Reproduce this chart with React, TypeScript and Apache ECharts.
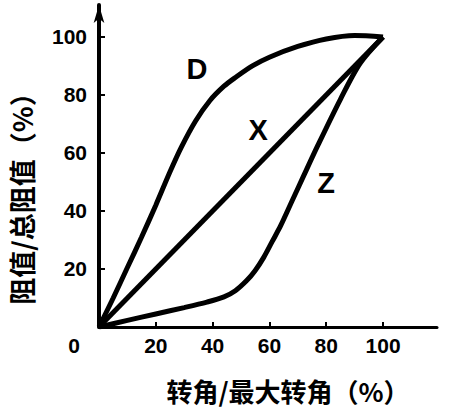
import React, { useEffect, useRef } from "react";
import * as echarts from "echarts";

const seriesNames = ["D", "X", "Z"];
const dCurve: [number, number][] = [
  [0, 0], [5, 10], [10, 20.5], [15, 31], [20, 42], [25, 53.5], [29, 62], [34, 71], [39, 78],
  [44, 83], [48, 86], [54, 90], [60, 93], [70, 96.7], [80, 99.3], [90, 100.5], [100, 100],
];
const xCurve: [number, number][] = [
  [0, 0], [100, 100],
];
const zCurve: [number, number][] = [
  [0, 0], [10, 2.3], [20, 4.5], [30, 6.7], [38, 8.6], [44, 10.4], [48, 12.5], [52, 16], [55, 19.5],
  [58, 24], [61, 29.5], [64, 35], [68, 43.5], [72, 52], [77, 62.5], [85, 78.5], [92, 91], [100, 100],
];
const labelPos: [number, number][] = [[34.5, 89], [56, 68], [80, 49.5]];
const xTicks = [20, 40, 60, 80, 100];
const xLabels = [0, 20, 40, 60, 80, 100];
const yTicks = [20, 40, 60, 80, 100];
const xName = "转角/最大转角（%）";
const yName = "阻值/总阻值（%）";

const numFont = "'Liberation Sans', Arial, sans-serif";
const cjkFont = "'Noto Sans CJK SC', sans-serif";

export default function App() {
  const ref = useRef<HTMLDivElement>(null);
  useEffect(() => {
    if (!ref.current) return;
    const chart = echarts.init(ref.current, undefined, { renderer: "svg" });
    const curves = [dCurve, xCurve, zCurve];
    chart.setOption({
      animation: false,
      backgroundColor: "#ffffff",
      grid: { left: 89, right: 12, top: 5, bottom: 80 },
      xAxis: {
        type: "value",
        min: 0,
        max: 119,
        splitLine: { show: false },
        axisLine: { show: true, lineStyle: { color: "#000", width: 3 } },
        axisTick: { show: true, inside: true, length: 5, customValues: xTicks, lineStyle: { color: "#000", width: 2 } },
        axisLabel: {
          customValues: xLabels,
          margin: 8,
          color: "#000",
          fontFamily: numFont,
          fontWeight: "bold",
          fontSize: 21,
          formatter: (v: number) => (v === 0 ? "{o|0}{s| }" : String(v)),
          rich: {
            o: { fontFamily: numFont, fontWeight: "bold", fontSize: 21, color: "#000" },
            s: { width: 50, fontSize: 21 },
          },
        },
        name: xName,
        nameLocation: "middle",
        nameGap: 50,
        nameTextStyle: { color: "#000", fontFamily: cjkFont, fontWeight: "bold", fontSize: 26, padding: [0, 0, 0, 40] },
      },
      yAxis: {
        type: "value",
        min: 0,
        max: 111,
        splitLine: { show: false },
        axisLine: {
          show: true,
          symbol: ["none", "arrow"],
          symbolSize: [8, 18],
          lineStyle: { color: "#000", width: 4 },
        },
        axisTick: { show: true, inside: true, length: 6, customValues: yTicks, lineStyle: { color: "#000", width: 2 } },
        axisLabel: {
          customValues: yTicks,
          margin: 12,
          color: "#000",
          fontFamily: numFont,
          fontWeight: "bold",
          fontSize: 21,
        },
        name: yName,
        nameLocation: "middle",
        nameGap: 64,
        nameTextStyle: { color: "#000", fontFamily: cjkFont, fontWeight: "bold", fontSize: 27, padding: [0, 52, 0, 0] },
      },
      series: seriesNames.map((name, i) => ({
        name,
        type: "line",
        data: curves[i],
        smooth: 0.3,
        showSymbol: false,
        symbol: "none",
        lineStyle: { color: "#000", width: 5 },
        markPoint: {
          symbol: "circle",
          symbolSize: 1,
          itemStyle: { color: "rgba(0,0,0,0)" },
          label: {
            show: true,
            position: "inside",
            formatter: name,
            color: "#000",
            fontFamily: numFont,
            fontWeight: "bold",
            fontSize: 29,
          },
          data: [{ coord: labelPos[i] }],
        },
      })),
    });
    return () => chart.dispose();
  }, []);
  return <div ref={ref} style={{ width: 449, height: 408, position: "absolute", left: 0, top: 0 }} />;
}
